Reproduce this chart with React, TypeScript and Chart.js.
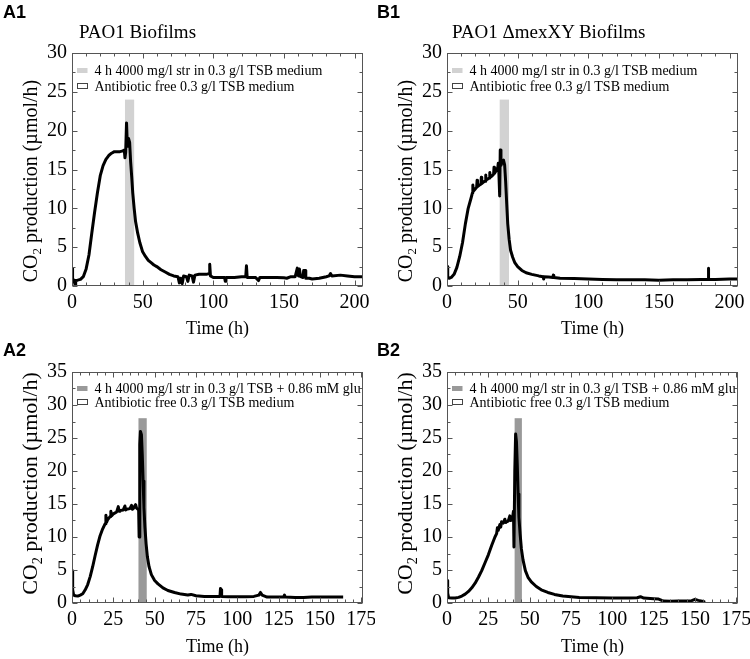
import React, { useEffect, useRef } from "react";
import { Chart, registerables } from "chart.js";
Chart.register(...registerables);

const SERIF = '"Liberation Serif", "Times New Roman", Times, serif';
const SANS = '"Liberation Sans", Arial, Helvetica, sans-serif';

// ---------- Data ----------
const a1Time = [0,0.4,1.2,1.8,2.2,2.6,4,6,8,10,12,14,16,18,20,22,24,26,28,30,32,34,36,37,37.5,38,38.6,39.2,40,40.8,41.5,42.3,43,44,45,46.5,48,50,52,54,56,58,60,63,66,69,72,75,76,77,78,79,81,82,83,85,86,87,90,95,97,97.5,98,100,105,108,108.5,109,115,120,123,123.5,124,130,132,133,140,145,150,152,155,158,159.5,160.3,161,161.8,163.5,164,165,165.5,168,170,175,180,182,183,184,190,195,200,206];
const a1Co2 = [2.3,0.5,0.8,0.7,0.1,0.7,0.75,0.85,1.2,2.2,4.0,6.8,9.5,12.0,14.2,15.5,16.3,16.8,17.1,17.3,17.3,17.3,17.4,17.5,16.5,17.2,21.0,18.0,19.0,18.5,16.0,14.0,12.0,10.0,8.3,6.8,5.6,4.4,3.8,3.3,3.0,2.7,2.5,2.1,1.8,1.5,1.3,1.2,0.4,1.0,0.3,1.3,1.2,0.6,1.4,1.3,0.5,1.4,1.5,1.5,1.6,2.8,1.3,1.1,1.1,1.1,0.6,1.1,1.1,1.2,1.2,2.6,1.1,1.1,0.7,1.1,1.1,1.1,1.05,1.0,1.2,1.2,2.3,1.3,2.2,1.2,1.1,2.0,2.0,1.0,1.0,0.9,1.0,1.2,1.3,1.6,1.3,1.4,1.3,1.2,1.2];

const b1Time = [0,0.5,1.5,3,5,7,9,11,13,15,17,18,18.3,18.6,20,21,21.3,21.6,23,24,24.3,24.6,26,27,27.3,27.6,29,30,30.3,30.6,32,33,33.3,33.6,35,36,36.3,36.6,37.3,37.7,38.2,39,40,40.8,41.5,42.3,43,44,45,46.5,48,50,53,56,60,65,68,68.3,68.6,72,75,75.3,75.6,80,90,100,110,120,130,140,150,160,170,180,184.8,185,185.3,190,200,206];
const b1Co2 = [2.5,1.2,1.0,1.1,1.5,2.4,3.8,5.6,8.0,10.0,11.3,12.0,13.0,12.2,12.5,12.7,13.6,12.8,13.0,13.1,14.0,13.2,13.4,13.5,14.3,13.6,13.8,13.9,14.6,14.0,14.2,14.4,15.3,14.5,14.9,15.3,15.8,15.2,11.6,17.5,15.5,16.0,16.2,15.6,13.5,10.5,8.0,6.0,4.6,3.7,3.0,2.5,2.0,1.7,1.5,1.3,1.2,0.9,1.2,1.15,1.1,1.4,1.1,1.0,0.95,0.9,0.85,0.8,0.8,0.8,0.75,0.8,0.8,0.85,0.85,2.3,0.85,0.85,0.9,0.9];

const a2Time = [0,0.4,1,2,3.5,5,6.5,8,9.5,11,12.5,14,15.5,17,18.5,20,20.5,21,21.5,23,23.5,24,25,27,28,28.5,29,31,32,32.5,33,35,36,36.5,37,38.5,39,39.8,40.3,40.6,41,41.4,42,42.5,43,43.5,44.1,44.8,45.6,46.6,48,50,52,55,58,62,66,70,72,75,80,85,89.5,89.8,90.2,90.5,95,100,105,110,113,114,115,118,122,128,128.5,129,135,140,145,150,155,160,164];
const a2Co2 = [4.9,2.0,1.2,1.1,1.05,1.2,1.4,2.0,2.8,4.0,5.5,7.2,8.8,10.2,11.2,12.0,13.3,12.3,12.6,13.1,13.9,13.2,13.5,13.8,14.6,13.9,14.0,14.1,14.7,14.1,14.2,14.3,14.8,14.2,14.3,14.9,14.4,14.2,14.2,10.0,24.0,26.0,25.5,22.5,18.5,14.5,11.5,9.0,7.0,5.5,4.3,3.4,2.9,2.3,1.9,1.6,1.35,1.2,1.3,1.1,1.0,1.0,1.0,2.2,2.0,1.0,0.95,0.95,0.95,1.0,1.2,1.6,1.2,0.9,0.9,0.9,1.2,0.9,0.85,0.85,0.9,0.9,0.9,0.9,0.9];

const b2Time = [0,0.4,1,3,5,7,9,11,13,15,17,19,21,23,25,27,29,30,30.5,31,32,32.5,33,34,35,35.5,36,37,38,38.5,39,39.5,40.2,40.5,41,41.5,42,42.5,43,43.5,44.2,45,46,47.4,49,51,54,57,61,65,70,75,80,90,100,110,115,117,119,125,128,131,135,140,145,148,150,152,155,156];
const b2Co2 = [3.4,1.5,0.8,0.75,0.76,0.85,1.05,1.35,1.75,2.3,3.0,3.9,4.9,6.1,7.3,8.7,10.0,10.5,11.4,11.0,11.9,11.5,12.3,12.1,12.7,12.2,12.3,12.4,13.2,12.5,12.6,12.7,13.9,8.5,20.0,25.6,24.5,21.0,16.5,13.0,10.5,8.2,6.5,4.9,3.9,3.2,2.5,2.0,1.6,1.3,1.05,0.95,0.85,0.8,0.75,0.75,0.8,0.95,0.75,0.65,0.6,0.3,0.25,0.3,0.3,0.35,0.55,0.4,0.25,0.1];

// antibiotic exposure bands: [start h, end h, top value]
const a1Band = [37.5, 44, 24];
const b1Band = [37.3, 43.9, 24];
const a2Band = [40.2, 45.2, 28];
const b2Band = [40.9, 45.3, 28];

const panelLetters = ["A1", "B1", "A2", "B2"];
const panelTitles = ["PAO1 Biofilms", "PAO1 \u0394mexXY Biofilms"];
const legendTop = ["4 h 4000 mg/l str in 0.3 g/l TSB medium", "Antibiotic free 0.3 g/l TSB medium"];
const legendBottom = ["4 h 4000 mg/l str in 0.3 g/l TSB + 0.86 mM glu", "Antibiotic free 0.3 g/l TSB medium"];
const xTitle = "Time (h)";
const yTitleParts = ["CO", "2", " production (\u00b5mol/h)"];

// axis ranges: [max, major step, minor step]
const xAxisTop = [206, 50, 10];
const xAxisBottom = [176, 25, 5];
const yAxisTop = [30, 5, 2.5];
const yAxisBottom = [35, 5, 2.5];

type Row = {
  top: number; h: number; padTop: number; xH: number; xTitlePad: number;
  legendBase: number[]; yTitleSize: number; yTitleY: number;
};
const rowTop: Row = { top: 0, h: 345, padTop: 53, xH: 59, xTitlePad: 7, legendBase: [22, 38], yTitleSize: 20, yTitleY: 181 };
const rowBottom: Row = { top: 330, h: 329, padTop: 42, xH: 56, xTitlePad: 3, legendBase: [21, 35], yTitleSize: 22, yTitleY: 153.5 };

type PanelCfg = {
  key: string; left: number; row: Row; time: number[]; vals: number[];
  band: number[]; bandColor: string; legend: string[]; xAxis: number[]; yAxis: number[];
};

const panels: PanelCfg[] = [
  { key: "a1", left: 0, row: rowTop, time: a1Time, vals: a1Co2, band: a1Band, bandColor: "#d2d2d2", legend: legendTop, xAxis: xAxisTop, yAxis: yAxisTop },
  { key: "b1", left: 375, row: rowTop, time: b1Time, vals: b1Co2, band: b1Band, bandColor: "#d2d2d2", legend: legendTop, xAxis: xAxisTop, yAxis: yAxisTop },
  { key: "a2", left: 0, row: rowBottom, time: a2Time, vals: a2Co2, band: a2Band, bandColor: "#999999", legend: legendBottom, xAxis: xAxisBottom, yAxis: yAxisBottom },
  { key: "b2", left: 375, row: rowBottom, time: b2Time, vals: b2Co2, band: b2Band, bandColor: "#999999", legend: legendBottom, xAxis: xAxisBottom, yAxis: yAxisBottom },
];

function makeDecor(p: PanelCfg) {
  return {
    id: "decor_" + p.key,
    beforeDatasetsDraw(chart: any) {
      const { ctx, scales } = chart;
      const x = scales.x, y = scales.y;
      const xs = x.getPixelForValue(p.band[0]);
      const xe = x.getPixelForValue(p.band[1]);
      const yb = y.getPixelForValue(0);
      const yt = y.getPixelForValue(p.band[2]);
      ctx.save();
      ctx.fillStyle = p.bandColor;
      ctx.fillRect(xs, yt, xe - xs, yb - yt);
      ctx.restore();
    },
    afterDatasetsDraw(chart: any) {
      const { ctx, chartArea: a, scales } = chart;
      const x = scales.x, y = scales.y;
      ctx.save();
      // frame
      const L = Math.round(a.left) + 0.5, R = Math.round(a.right) - 0.5;
      const T = Math.round(a.top) + 0.5, B = Math.round(a.bottom) - 0.5;
      ctx.strokeStyle = "#555";
      ctx.lineWidth = 1;
      ctx.strokeRect(L, T, R - L, B - T);
      // inward ticks on all four sides
      ctx.beginPath();
      const [xMax, xMaj, xMin] = p.xAxis;
      for (let v = 0; v <= xMax + 1e-9; v += xMin) {
        const major = Math.abs(v / xMaj - Math.round(v / xMaj)) < 1e-6;
        const len = major ? 5 : 3;
        const px = Math.round(x.getPixelForValue(v)) + 0.5;
        ctx.moveTo(px, B); ctx.lineTo(px, B - len);
        ctx.moveTo(px, T); ctx.lineTo(px, T + len);
      }
      const [yMax, yMaj, yMin] = p.yAxis;
      for (let v = 0; v <= yMax + 1e-9; v += yMin) {
        const major = Math.abs(v / yMaj - Math.round(v / yMaj)) < 1e-6;
        const len = major ? 5 : 3;
        const py = Math.round(y.getPixelForValue(v)) + 0.5;
        ctx.moveTo(L, py); ctx.lineTo(L + len, py);
        ctx.moveTo(R, py); ctx.lineTo(R - len, py);
      }
      ctx.stroke();

      // legend
      const r = p.row;
      ctx.font = `14px ${SERIF}`;
      ctx.fillStyle = "#000";
      ctx.textAlign = "left";
      ctx.textBaseline = "alphabetic";
      const b0 = a.top + r.legendBase[0];
      const b1 = a.top + r.legendBase[1];
      ctx.fillText(p.legend[0], a.left + 22.5, b0);
      ctx.fillText(p.legend[1], a.left + 22.5, b1);
      ctx.fillStyle = p.bandColor;
      ctx.fillRect(a.left + 5, b0 - 7, 10.5, 5);
      ctx.strokeStyle = "#444";
      ctx.strokeRect(Math.round(a.left) + 5.5, Math.round(b1) - 7.5, 10, 5);

      // y-axis title with subscript
      const fs = r.yTitleSize;
      ctx.translate(30, r.yTitleY);
      ctx.rotate(-Math.PI / 2);
      ctx.fillStyle = "#000";
      ctx.font = `${fs}px ${SERIF}`;
      const w1 = ctx.measureText(yTitleParts[0]).width;
      const w3 = ctx.measureText(yTitleParts[2]).width;
      ctx.font = `${fs * 0.65}px ${SERIF}`;
      const w2 = ctx.measureText(yTitleParts[1]).width;
      const start = -(w1 + w2 + w3) / 2;
      const base = fs * 0.33;
      ctx.font = `${fs}px ${SERIF}`;
      ctx.fillText(yTitleParts[0], start, base);
      ctx.font = `${fs * 0.65}px ${SERIF}`;
      ctx.fillText(yTitleParts[1], start + w1, base + fs * 0.2);
      ctx.font = `${fs}px ${SERIF}`;
      ctx.fillText(yTitleParts[2], start + w1 + w2, base);
      ctx.restore();
    },
  };
}

function Panel({ p }: { p: PanelCfg }) {
  const ref = useRef<HTMLCanvasElement>(null);
  useEffect(() => {
    const n = Math.min(p.time.length, p.vals.length);
    const pts = [] as { x: number; y: number }[];
    for (let i = 0; i < n; i++) pts.push({ x: p.time[i], y: p.vals[i] });
    const r = p.row;
    const chart = new Chart(ref.current as HTMLCanvasElement, {
      type: "line",
      data: {
        datasets: [
          {
            data: pts,
            borderColor: "#000",
            borderWidth: 3,
            pointRadius: 0,
            tension: 0,
            fill: false,
            borderJoinStyle: "round",
          } as any,
        ],
      },
      options: {
        animation: false,
        responsive: false,
        maintainAspectRatio: false,
        layout: { padding: { top: r.padTop, right: 12, left: 0, bottom: 0 } },
        plugins: { legend: { display: false }, tooltip: { enabled: false }, title: { display: false } },
        scales: {
          x: {
            type: "linear",
            min: 0,
            max: p.xAxis[0],
            grid: { display: false, drawTicks: false },
            border: { display: false },
            ticks: {
              stepSize: p.xAxis[1],
              includeBounds: false,
              autoSkip: false,
              maxRotation: 0,
              padding: 5,
              color: "#000",
              font: { family: SERIF, size: 20 },
            },
            title: {
              display: true,
              text: xTitle,
              color: "#000",
              font: { family: SERIF, size: 18, lineHeight: 1 },
              padding: { top: 0, bottom: r.xTitlePad },
            },
            afterFit: (s: any) => {
              s.height = r.xH;
              s.paddingLeft = 0;
              s.paddingRight = 0;
            },
          },
          y: {
            type: "linear",
            min: 0,
            max: p.yAxis[0],
            grid: { display: false, drawTicks: false },
            border: { display: false },
            ticks: {
              stepSize: p.yAxis[1],
              includeBounds: false,
              padding: 5,
              color: "#000",
              font: { family: SERIF, size: 20 },
            },
            afterFit: (s: any) => {
              s.width = 72;
              s.paddingTop = 0;
              s.paddingBottom = 0;
            },
          },
        },
      } as any,
      plugins: [makeDecor(p)],
    });
    return () => chart.destroy();
  }, [p]);
  return (
    <canvas
      ref={ref}
      width={375}
      height={p.row.h}
      style={{ position: "absolute", left: p.left, top: p.row.top, width: 375, height: p.row.h }}
    />
  );
}

const letterStyle: React.CSSProperties = {
  position: "absolute",
  fontFamily: SANS,
  fontWeight: "bold",
  fontSize: 18,
  lineHeight: "18px",
  color: "#000",
  whiteSpace: "nowrap",
};
const titleStyle: React.CSSProperties = {
  position: "absolute",
  fontFamily: SERIF,
  fontSize: 19,
  lineHeight: "19px",
  color: "#000",
  whiteSpace: "nowrap",
};

export default function App() {
  return (
    <div style={{ position: "absolute", left: 0, top: 0, width: 750, height: 659, background: "#fff", overflow: "hidden" }}>
      {panels.map((p) => (
        <Panel key={p.key} p={p} />
      ))}
      <div style={{ ...letterStyle, left: 3, top: 3 }}>{panelLetters[0]}</div>
      <div style={{ ...letterStyle, left: 377, top: 3 }}>{panelLetters[1]}</div>
      <div style={{ ...letterStyle, left: 3, top: 341 }}>{panelLetters[2]}</div>
      <div style={{ ...letterStyle, left: 377, top: 341 }}>{panelLetters[3]}</div>
      <div style={{ ...titleStyle, left: 79, top: 22 }}>{panelTitles[0]}</div>
      <div style={{ ...titleStyle, left: 452, top: 22 }}>{panelTitles[1]}</div>
    </div>
  );
}
